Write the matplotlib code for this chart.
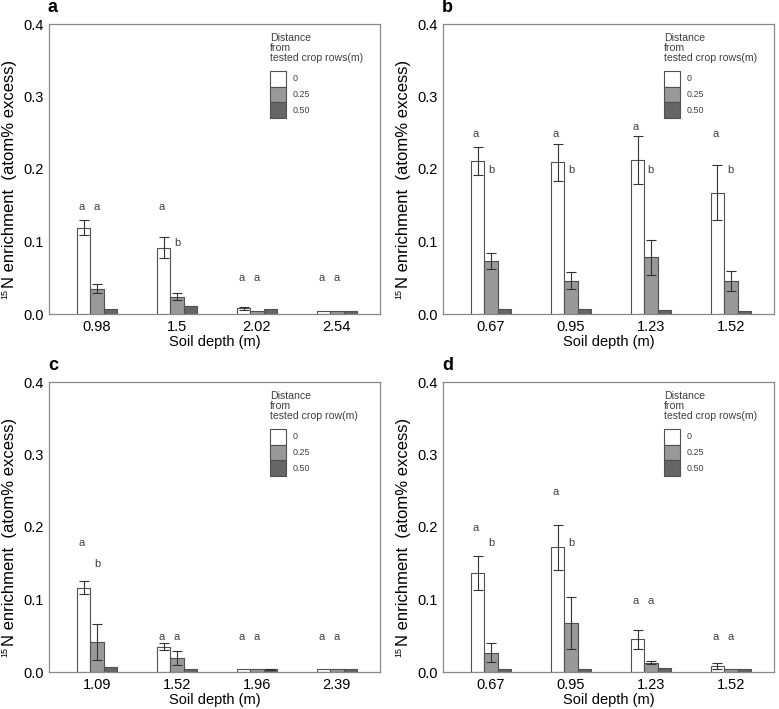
import numpy as np
import matplotlib
matplotlib.use('Agg')
import matplotlib.pyplot as plt
from matplotlib.patches import Rectangle

plt.rcParams['font.family'] = ['Liberation Sans', 'DejaVu Sans']

series_labels = ['0', '0.25', '0.50']
series_colors = ['#ffffff', '#999999', '#666666']

# panel a
depth_a = ['0.98', '1.5', '2.02', '2.54']
mean_a = [[0.119, 0.0915, 0.0078, 0.0037],
          [0.035, 0.024, 0.0037, 0.0037],
          [0.0064, 0.011, 0.007, 0.0037]]
err_a = [[0.010, 0.0145, 0.002, 0],
         [0.006, 0.005, 0, 0],
         [0, 0, 0, 0]]
letters_a = [['a', 'a', 'a', 'a'], ['a', 'b', 'a', 'a']]
letter_y_a = [[0.148, 0.148, 0.05, 0.05], [0.148, 0.098, 0.05, 0.05]]

# panel b
depth_b = ['0.67', '0.95', '1.23', '1.52']
mean_b = [[0.211, 0.209, 0.213, 0.167],
          [0.073, 0.046, 0.078, 0.0455],
          [0.007, 0.0064, 0.0055, 0.004]]
err_b = [[0.019, 0.0255, 0.033, 0.038],
         [0.011, 0.0117, 0.024, 0.0138],
         [0, 0, 0, 0]]
letters_b = [['a', 'a', 'a', 'a'], ['b', 'b', 'b', 'b']]
letter_y_b = [[0.248, 0.248, 0.258, 0.248], [0.199, 0.199, 0.199, 0.199]]

# panel c
depth_c = ['1.09', '1.52', '1.96', '2.39']
mean_c = [[0.116, 0.035, 0.0046, 0.0046],
          [0.0415, 0.019, 0.0046, 0.0046],
          [0.0065, 0.0046, 0.0037, 0.0046]]
err_c = [[0.009, 0.005, 0, 0],
         [0.025, 0.0095, 0, 0],
         [0, 0, 0.001, 0]]
letters_c = [['a', 'a', 'a', 'a'], ['b', 'a', 'a', 'a']]
letter_y_c = [[0.178, 0.048, 0.048, 0.048], [0.149, 0.048, 0.048, 0.048]]

# panel d
depth_d = ['0.67', '0.95', '1.23', '1.52']
mean_d = [[0.136, 0.172, 0.045, 0.0088],
          [0.0267, 0.068, 0.013, 0.0046],
          [0.0046, 0.0046, 0.006, 0.0046]]
err_d = [[0.0235, 0.031, 0.013, 0.004],
         [0.0127, 0.036, 0.0025, 0],
         [0, 0, 0, 0]]
letters_d = [['a', 'a', 'a', 'a'], ['b', 'b', 'a', 'a']]
letter_y_d = [[0.199, 0.248, 0.098, 0.048], [0.178, 0.178, 0.098, 0.048]]

panels = [
    ('a', depth_a, mean_a, err_a, letters_a, letter_y_a, 'tested crop rows(m)'),
    ('b', depth_b, mean_b, err_b, letters_b, letter_y_b, 'tested crop rows(m)'),
    ('c', depth_c, mean_c, err_c, letters_c, letter_y_c, 'tested crop row(m)'),
    ('d', depth_d, mean_d, err_d, letters_d, letter_y_d, 'tested crop rows(m)'),
]

W, H = 779, 709
fig = plt.figure(figsize=(W / 100, H / 100), dpi=100)
renderer = fig.canvas.get_renderer()

# axes boxes in pixels: left, top, width, height
boxes = [(49, 24, 331, 290), (443, 24, 331, 290),
         (49, 382, 331, 290), (443, 382, 331, 290)]

width = 0.167
edge = '#505050'
text_gray = '#404040'

for (tag, depths, means, errs, letters, letter_y, leg_last), (l, t, w, h) in zip(panels, boxes):
    ax = fig.add_axes([l / W, 1 - (t + h) / H, w / W, h / H])
    x = np.arange(len(depths))
    for i in range(3):
        xi = x + (i - 1) * width
        yerr = np.array(errs[i])
        ax.bar(xi, means[i], width, color=series_colors[i], edgecolor=edge, linewidth=0.8, zorder=2)
        mask = yerr > 0
        if mask.any():
            ax.errorbar(xi[mask], np.array(means[i])[mask], yerr=yerr[mask], fmt='none',
                        ecolor='#333333', elinewidth=0.8, capsize=3.6, capthick=0.8, zorder=3)
    for j in range(2):
        for k in range(len(depths)):
            ax.text(x[k] + (j - 1) * width - (0.02 if j == 0 else 0), letter_y[j][k], letters[j][k],
                    ha='center', va='center', fontsize=8, color=text_gray)

    ax.set_xlim(-0.6, 3.54)
    ax.set_ylim(0, 0.4)
    ax.set_xticks(x)
    ax.set_xticklabels(depths)
    ax.set_yticks([0, 0.1, 0.2, 0.3, 0.4])
    ax.set_yticklabels(['0.0', '0.1', '0.2', '0.3', '0.4'])
    ax.tick_params(length=0, labelsize=10.5, pad=4)
    for s in ax.spines.values():
        s.set_color('#888888')
        s.set_linewidth(0.9)
    ax.set_xlabel('Soil depth (m)', fontsize=10.5, labelpad=1)

    # y label: main part plus small superscript "15"
    ylab = fig.text((l - 35) / W, 1 - (t + h / 2 + 5) / H, 'N enrichment  (atom% excess)',
                    rotation=90, rotation_mode='anchor', ha='center', va='baseline', fontsize=12)
    bb = ylab.get_window_extent(renderer)
    fig.text((l - 42) / W, (bb.y0 - 1) / (H), '15', rotation=90, rotation_mode='anchor',
             ha='right', va='baseline', fontsize=6.5)

    # legend drawn manually
    ax.text(0.668, 0.97, 'Distance\nfrom\n' + leg_last, transform=ax.transAxes,
            ha='left', va='top', fontsize=7.6, color=text_gray, linespacing=1.0)
    for i in range(3):
        y0 = 0.838 - (i + 1) * 0.054
        ax.add_patch(Rectangle((0.668, y0), 0.048, 0.054, transform=ax.transAxes,
                               facecolor=series_colors[i], edgecolor=edge, linewidth=0.8, clip_on=False))
        ax.text(0.736, y0 + 0.027, series_labels[i], transform=ax.transAxes,
                ha='left', va='center', fontsize=6.4, color=text_gray)

    fig.text((l - 1) / W, 1 - (t - 17) / H, tag, fontsize=13, fontweight='bold', ha='left', va='center')

fig.savefig('out.png', dpi=100)
